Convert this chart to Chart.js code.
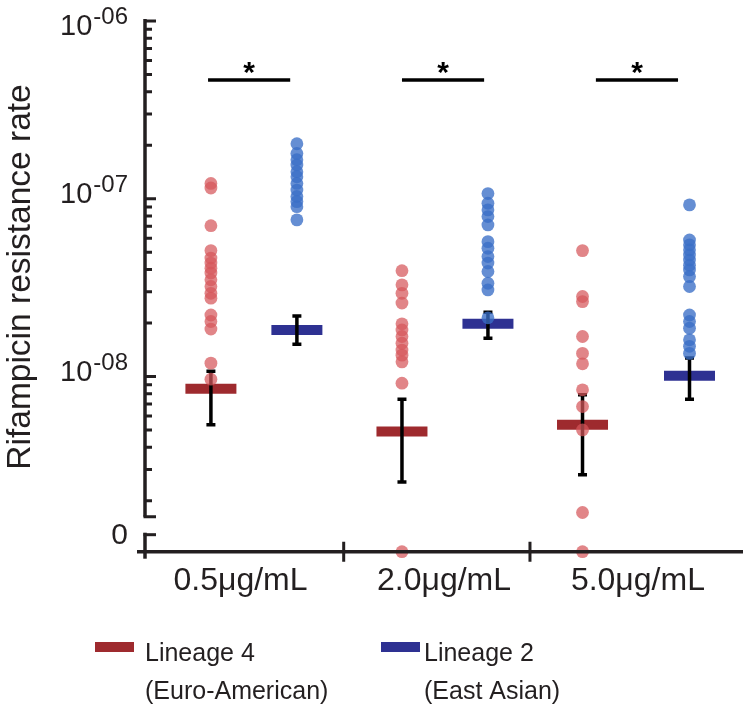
<!DOCTYPE html>
<html>
<head>
<meta charset="utf-8">
<script src="https://cdn.jsdelivr.net/npm/chart.js@4.4.0/dist/chart.umd.min.js"></script>
<style>
  html, body { margin: 0; padding: 0; background: #fff; }
  #wrap { width: 750px; height: 713px; position: relative; }
</style>
</head>
<body>
<div id="wrap"><canvas id="rifChart"></canvas></div>
<script>
// concentrations on the x axis
const categories = ['0.5μg/mL', '2.0μg/mL', '5.0μg/mL'];
const seriesNames = [['Lineage 4', '(Euro-American)'], ['Lineage 2', '(East Asian)']];

// one value per isolate, per concentration (0 = no resistant colonies)
const lin4Values = [
  [1.22e-7, 1.15e-7, 7.06e-8, 5.11e-8, 4.64e-8, 4.35e-8, 4.07e-8, 3.82e-8, 3.50e-8, 3.21e-8, 2.94e-8, 2.76e-8, 2.22e-8, 2.04e-8, 1.85e-8, 1.19e-8, 9.67e-9],
  [3.94e-8, 3.28e-8, 2.94e-8, 2.59e-8, 1.98e-8, 1.83e-8, 1.68e-8, 1.54e-8, 1.41e-8, 1.32e-8, 1.21e-8, 9.18e-9, 0],
  [5.11e-8, 2.82e-8, 2.64e-8, 1.68e-8, 1.35e-8, 1.18e-8, 8.42e-9, 6.78e-9, 5.01e-9, 1.72e-9, 0]
];
const lin2Values = [
  [2.04e-7, 1.80e-7, 1.66e-7, 1.55e-7, 1.42e-7, 1.33e-7, 1.22e-7, 1.12e-7, 1.03e-7, 9.64e-8, 9.03e-8, 7.61e-8],
  [1.07e-7, 9.44e-8, 8.66e-8, 7.94e-8, 7.13e-8, 5.74e-8, 5.27e-8, 4.73e-8, 4.35e-8, 3.90e-8, 3.35e-8, 3.07e-8, 2.14e-8],
  [9.24e-8, 5.87e-8, 5.51e-8, 5.16e-8, 4.83e-8, 4.52e-8, 4.23e-8, 3.98e-8, 3.65e-8, 3.21e-8, 2.22e-8, 2.04e-8, 1.87e-8, 1.61e-8, 1.48e-8, 1.35e-8]
];

// summary bars and error bars
const lin4Median = [8.53e-9, 4.91e-9, 5.35e-9];
const lin4Low = [5.35e-9, 2.55e-9, 2.80e-9];
const lin4High = [1.07e-8, 7.46e-9, 7.89e-9];
const lin2Median = [1.83e-8, 1.98e-8, 1.01e-8];
const lin2Low = [1.52e-8, 1.64e-8, 7.46e-9];
const lin2High = [2.19e-8, 2.30e-8, 1.27e-8];

// significance brackets
const sigLevel = [4.66e-7, 4.66e-7, 4.66e-7];
const sigMark = ['*', '*', '*'];

// y axis ticks
const yMajorTicks = [1e-6, 1e-7, 1e-8];
const yTickLabels = [['10', '-06'], ['10', '-07'], ['10', '-08']];
const zeroLabel = '0';
const yTitle = 'Rifampicin resistance rate';

// layout (not data)
const Y_MIN = 1.035e-9, Y_MAX = 1e-6;
const ZERO_AT = 1.29e-9;
const BREAK_AT = 1.63e-9;
const X_MIN = 0.43, X_MAX = 3.56;
const HALF_GAP = [0.225, 0.225, 0.28];
const SEPARATORS = [1.47, 2.445];
const LABEL_X = [0.93, 1.995, 3.01];
const SIG_X = [0.975, 1.99, 3.005];
const SIG_HALF = 0.215;

const INK = '#231f20';
const RED = '#9e2a2e';
const BLUE = '#2e3192';
const FONT = '"Liberation Sans", Arial, sans-serif';

function dots(values, side) {
    const pts = [];
    values.forEach(function (col, g) {
        col.forEach(function (v) {
            pts.push({ x: g + 1 + side * HALF_GAP[g], y: v === 0 ? Y_MIN : v });
        });
    });
    return pts;
}
function centers(values, side) {
    return values.map(function (v, g) { return { x: g + 1 + side * HALF_GAP[g], y: v }; });
}

const decorPlugin = {
    id: 'decor',
    beforeDraw: function (chart) {
        const c = chart.ctx;
        c.save();
        c.fillStyle = '#fff';
        c.fillRect(0, 0, chart.width, chart.height);
        c.restore();
    },
    afterDatasetDraw: function (chart, args) {
        if (args.index !== 2) return;
        const c = chart.ctx, xs = chart.scales.x, ys = chart.scales.y;
        c.save();
        c.strokeStyle = '#000';
        c.lineWidth = 3.5;
        [[lin4Low, lin4High, -1], [lin2Low, lin2High, 1]].forEach(function (s) {
            for (let g = 0; g < 3; g++) {
                const px = xs.getPixelForValue(g + 1 + s[2] * HALF_GAP[g]);
                const lo = ys.getPixelForValue(s[0][g]);
                const hi = ys.getPixelForValue(s[1][g]);
                c.beginPath();
                c.moveTo(px, lo); c.lineTo(px, hi);
                c.moveTo(px - 4.5, lo); c.lineTo(px + 4.5, lo);
                c.moveTo(px - 4.5, hi); c.lineTo(px + 4.5, hi);
                c.stroke();
            }
        });
        c.restore();
    },
    afterDraw: function (chart) {
        const c = chart.ctx, xs = chart.scales.x, ys = chart.scales.y;
        const area = chart.chartArea;
        const ax = area.left, bottom = area.bottom;
        c.save();
        c.strokeStyle = INK;
        c.fillStyle = INK;

        // y axis, upper (log) part
        c.lineWidth = 3.5;
        c.beginPath();
        c.moveTo(ax, ys.getPixelForValue(Y_MAX) - 2);
        c.lineTo(ax, ys.getPixelForValue(BREAK_AT));
        c.stroke();
        c.lineWidth = 3;
        c.beginPath();
        yMajorTicks.forEach(function (t) {
            const py = ys.getPixelForValue(t);
            c.moveTo(ax - 1, py); c.lineTo(ax + 11, py);
        });
        for (let d = -7; d >= -9; d--) {
            for (let k = 2; k <= 9; k++) {
                const py = ys.getPixelForValue(k * Math.pow(10, d));
                c.moveTo(ax, py); c.lineTo(ax + 7, py);
            }
        }
        const pb = ys.getPixelForValue(BREAK_AT);
        c.moveTo(ax - 1.5, pb); c.lineTo(ax + 11, pb);
        c.stroke();

        // y axis, lower part with the zero
        const pz = ys.getPixelForValue(ZERO_AT);
        c.lineWidth = 3.5;
        c.beginPath();
        c.moveTo(ax, pz - 2); c.lineTo(ax, bottom + 7);
        c.stroke();
        c.lineWidth = 3;
        c.beginPath();
        c.moveTo(ax - 1.5, pz); c.lineTo(ax + 11, pz);
        c.stroke();

        // x axis
        c.lineWidth = 3.5;
        c.beginPath();
        c.moveTo(ax - 8, bottom); c.lineTo(area.right, bottom);
        c.stroke();
        c.lineWidth = 3;
        c.beginPath();
        SEPARATORS.forEach(function (s) {
            const px = xs.getPixelForValue(s);
            c.moveTo(px, bottom - 10); c.lineTo(px, bottom + 10);
        });
        c.stroke();

        // y tick labels
        c.textBaseline = 'alphabetic';
        const rightEdge = 128;
        yMajorTicks.forEach(function (t, i) {
            const py = ys.getPixelForValue(t);
            const base = Math.max(py + 4.5, 35);
            c.font = '24px ' + FONT;
            const wSup = c.measureText(yTickLabels[i][1]).width;
            c.textAlign = 'left';
            c.fillText(yTickLabels[i][1], rightEdge - wSup, base - 11.5);
            c.font = '29px ' + FONT;
            c.textAlign = 'right';
            c.fillText(yTickLabels[i][0], rightEdge - wSup - 1, base);
        });
        c.font = '30px ' + FONT;
        c.textAlign = 'right';
        c.textBaseline = 'middle';
        c.fillText(zeroLabel, rightEdge, pz + 1);

        // y title
        c.save();
        c.translate(30, 277);
        c.rotate(-Math.PI / 2);
        c.font = '33.5px ' + FONT;
        c.textAlign = 'center';
        c.textBaseline = 'alphabetic';
        c.fillText(yTitle, 0, 0);
        c.restore();

        // category labels
        c.font = '32px ' + FONT;
        c.textAlign = 'center';
        c.textBaseline = 'alphabetic';
        categories.forEach(function (lab, g) {
            c.fillText(lab, xs.getPixelForValue(LABEL_X[g]), bottom + 38);
        });

        // significance lines and stars
        c.lineWidth = 3.5;
        c.strokeStyle = '#000';
        c.fillStyle = '#000';
        sigLevel.forEach(function (lv, g) {
            const py = ys.getPixelForValue(lv);
            c.beginPath();
            c.moveTo(xs.getPixelForValue(SIG_X[g] - SIG_HALF), py);
            c.lineTo(xs.getPixelForValue(SIG_X[g] + SIG_HALF), py);
            c.stroke();
            c.font = 'bold 30px ' + FONT;
            c.textAlign = 'center';
            c.textBaseline = 'alphabetic';
            c.fillText(sigMark[g], xs.getPixelForValue(SIG_X[g]), py + 2);
        });

        // legend
        c.font = '25px ' + FONT;
        c.textAlign = 'left';
        c.textBaseline = 'alphabetic';
        const legend = [[RED, 95, 145], [BLUE, 381, 424]];
        legend.forEach(function (l, i) {
            c.fillStyle = l[0];
            c.fillRect(l[1], 642, 39, 10);
            c.fillStyle = INK;
            c.fillText(seriesNames[i][0], l[2], 661);
            c.fillText(seriesNames[i][1], l[2], 699);
        });
        c.restore();
    }
};

const ctx = document.getElementById('rifChart').getContext('2d');
const chart = new Chart(ctx, {
    type: 'scatter',
    data: {
        datasets: [
            {
                label: seriesNames[0].join(' '),
                data: dots(lin4Values, -1),
                backgroundColor: 'rgba(214, 86, 90, 0.72)',
                borderWidth: 0,
                pointRadius: 6.4,
                order: 0,
                clip: false
            },
            {
                label: seriesNames[1].join(' '),
                data: dots(lin2Values, 1),
                backgroundColor: 'rgba(58, 110, 198, 0.78)',
                borderWidth: 0,
                pointRadius: 6.4,
                order: 0,
                clip: false
            },
            {
                label: 'Lineage 4 median',
                data: centers(lin4Median, -1),
                pointStyle: 'line',
                pointRadius: 25.5,
                borderColor: RED,
                backgroundColor: RED,
                borderWidth: 10,
                order: 5,
                clip: false
            },
            {
                label: 'Lineage 2 median',
                data: centers(lin2Median, 1),
                pointStyle: 'line',
                pointRadius: 25.5,
                borderColor: BLUE,
                backgroundColor: BLUE,
                borderWidth: 10,
                order: 5,
                clip: false
            }
        ]
    },
    options: {
        responsive: true,
        maintainAspectRatio: false,
        animation: false,
        layout: { autoPadding: false, padding: { left: 145, right: 7, top: 21, bottom: 161.3 } },
        scales: {
            x: { type: 'linear', min: X_MIN, max: X_MAX, display: false },
            y: { type: 'logarithmic', min: Y_MIN, max: Y_MAX, display: false }
        },
        plugins: {
            legend: { display: false },
            tooltip: { enabled: false }
        }
    },
    plugins: [decorPlugin]
});
</script>
</body>
</html>
